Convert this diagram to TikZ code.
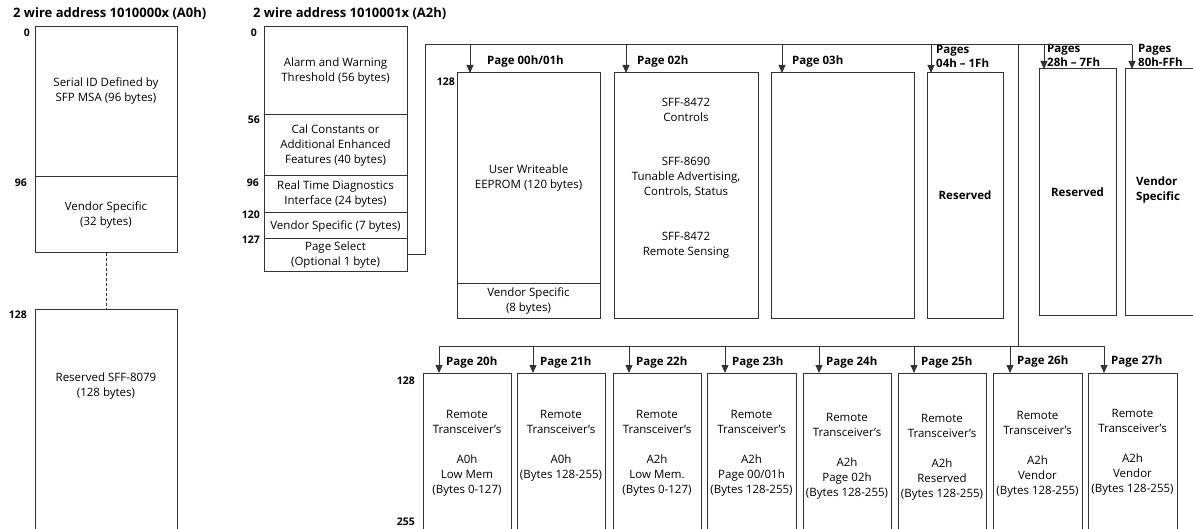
\documentclass[tikz,border=0pt]{standalone}
\usepackage{fontspec}
\setmainfont{Open Sans}
\usetikzlibrary{arrows.meta,positioning}

\newcommand\bodysize{\fontsize{11.5}{15}\selectfont}

\begin{document}
\begin{tikzpicture}[
        x=1pt, y=-1pt,
        font=\bodysize,
        membox/.style={draw=black!80, line width=1pt, inner sep=0pt, outer sep=0pt, anchor=north west, align=center},
        txt/.style={align=center, inner sep=0pt},
        boldtxt/.style={font=\bodysize\bfseries},
        title/.style={font=\fontsize{13}{15}\selectfont\bfseries, inner sep=0pt, anchor=west},
        hdr/.style={font=\fontsize{11.5}{14}\selectfont\bfseries, inner sep=0pt, anchor=west, align=left},
        offs/.style={font=\fontsize{10.5}{13}\selectfont\bfseries, inner sep=0pt, anchor=east},
        bus/.style={draw=black!80, line width=1pt},
        arrow/.style={bus, -{Triangle[length=8pt,width=7pt]}}
    ]

    \useasboundingbox (0,0) rectangle (1193,529);
    \clip (0,0) rectangle (1193,529);

    % ==========================================
    % A0h: 2 wire address 1010000x
    % ==========================================
    \node[title] (hA0) at (13,14) {2 wire address 1010000x (A0h)};
    \node[membox, minimum width=142pt, minimum height=150pt] (a0id) at (35,27) {};
    \node[txt] (a0idt) at (106,91) {Serial ID Defined by\\SFP MSA (96 bytes)};
    \node[membox, minimum width=142pt, minimum height=76pt] (a0vs) at (a0id.south west) {Vendor Specific\\(32 bytes)};
    \node[membox, minimum width=142pt, minimum height=240pt] (a0res) at (35,309) {};
    \node[txt] (a0rest) at (106,386) {Reserved SFF-8079\\(128 bytes)};
    \draw[bus, densely dashed, line width=0.6pt] (a0vs.south) -- (a0res.north);

    \node[offs] (o0) at (30,33) {0};
    \node[offs] (o96) at (27,183) {96};
    \node[offs] (o128) at (27,315) {128};

    % ==========================================
    % A2h: 2 wire address 1010001x
    % ==========================================
    \node[title] (hA2) at (253,14) {2 wire address 1010001x (A2h)};
    \node[membox, minimum width=143pt, minimum height=88pt] (alarm) at (264,27) {Alarm and Warning\\Threshold (56 bytes)};
    \node[membox, minimum width=143pt, minimum height=61pt] (cal) at (alarm.south west) {Cal Constants or\\Additional Enhanced\\Features (40 bytes)};
    \node[membox, minimum width=143pt, minimum height=37pt] (rtd) at (cal.south west) {Real Time Diagnostics\\Interface (24 bytes)};
    \node[membox, minimum width=143pt, minimum height=26pt] (vs7) at (rtd.south west) {Vendor Specific (7 bytes)};
    \node[membox, minimum width=143pt, minimum height=32pt] (psel) at (vs7.south west) {Page Select\\(Optional 1 byte)};

    \node[offs] (a2o0) at (257,33) {0};
    \node[offs] (a2o56) at (260,120) {56};
    \node[offs] (a2o96) at (259,183) {96};
    \node[offs] (a2o120) at (260,215) {120};
    \node[offs] (a2o127) at (260,240) {127};

    % ==========================================
    % Upper pages 00h ... FFh
    % ==========================================
    \node[membox, minimum width=143pt, minimum height=210pt] (p00) at (457,73) {User Writeable\\EEPROM (120 bytes)};
    \node[membox, minimum width=143pt, minimum height=35pt] (p00vs) at (p00.south west) {Vendor Specific\\(8 bytes)};
    \node[membox, minimum width=144pt, minimum height=245pt] (p02) at (614,73) {};
    \node[txt, below=25pt of p02.north] (p02t) {SFF-8472\\Controls\\[29pt]SFF-8690\\Tunable Advertising,\\Controls, Status\\[30pt]SFF-8472\\Remote Sensing};
    \node[membox, minimum width=143pt, minimum height=245pt] (p03) at (771,73) {};
    \node[membox, boldtxt, minimum width=76pt, minimum height=245pt] (p04) at (927,73) {Reserved};
    \node[membox, boldtxt, minimum width=77pt, minimum height=246pt] (p28) at (1039,69) {Reserved};
    \node[membox, minimum width=80pt, minimum height=246pt] (p80) at (1125,69) {};
    \node[txt, boldtxt, anchor=west, align=left] (p80t) at (1136,190) {Vendor\\Specific};

    \node[offs] (po128) at (455,82) {128};

    \node[hdr] (l00) at (487,62) {Page 00h/01h};
    \node[hdr] (l02) at (637,62) {Page 02h};
    \node[hdr] (l03) at (792,62) {Page 03h};
    \node[hdr] (l04) at (936,56) {Pages\\04h -- 1Fh};
    \node[hdr] (l28) at (1047,55) {Pages\\28h -- 7Fh};
    \node[hdr] (l80) at (1138,55) {Pages\\80h-FFh};

    % page select bus
    \coordinate (jn) at (425,45);
    \coordinate (t00) at (470,45);
    \coordinate (t02) at (626,45);
    \coordinate (t03) at (782,45);
    \coordinate (t04) at (931,45);
    \coordinate (tap) at (1018,45);
    \coordinate (t28) at (1044,45);
    \coordinate (t80) at (1132,45);
    \draw[bus] (psel.east) -| (jn) -- (t80);
    \draw[arrow] (t00) -- (t00 |- p00.north);
    \draw[arrow] (t02) -- (t02 |- p02.north);
    \draw[arrow] (t03) -- (t03 |- p03.north);
    \draw[arrow] (t04) -- (t04 |- p04.north);
    \draw[arrow] (t28) -- (t28 |- p28.north);
    \draw[arrow] (t80) -- (t80 |- p80.north);

    % ==========================================
    % Lower pages 20h ... 27h (remote transceiver)
    % ==========================================
    \node[membox, minimum width=88pt, minimum height=158pt] (r20) at (423,373) {};
    \node[membox, minimum width=88pt, minimum height=158pt] (r21) at (517,373) {};
    \node[membox, minimum width=88pt, minimum height=158pt] (r22) at (613,373) {};
    \node[membox, minimum width=89pt, minimum height=158pt] (r23) at (707,373) {};
    \node[membox, minimum width=88pt, minimum height=158pt] (r24) at (803,373) {};
    \node[membox, minimum width=88pt, minimum height=158pt] (r25) at (898,373) {};
    \node[membox, minimum width=89pt, minimum height=158pt] (r26) at (993,373) {};
    \node[membox, minimum width=89pt, minimum height=158pt] (r27) at (1088,373) {};

    \node[txt, below=37pt of r20.north] (r20t) {Remote\\Transceiver’s\\[15pt]A0h\\Low Mem\\(Bytes 0-127)};
    \node[txt, below=37pt of r21.north] (r21t) {Remote\\Transceiver’s\\[15pt]A0h\\(Bytes 128-255)};
    \node[txt, below=37pt of r22.north] (r22t) {Remote\\Transceiver’s\\[15pt]A2h\\Low Mem.\\(Bytes 0-127)};
    \node[txt, below=37pt of r23.north] (r23t) {Remote\\Transceiver’s\\[15pt]A2h\\Page 00/01h\\(Bytes 128-255)};
    \node[txt, below=40pt of r24.north] (r24t) {Remote\\Transceiver’s\\[15pt]A2h\\Page 02h\\(Bytes 128-255)};
    \node[txt, below=41pt of r25.north] (r25t) {Remote\\Transceiver’s\\[15pt]A2h\\Reserved\\(Bytes 128-255)};
    \node[txt, below=38pt of r26.north] (r26t) {Remote\\Transceiver’s\\[15pt]A2h\\Vendor\\(Bytes 128-255)};
    \node[txt, below=36pt of r27.north] (r27t) {Remote\\Transceiver’s\\[15pt]A2h\\Vendor\\(Bytes 128-255)};

    \node[offs] (ro128) at (415,381) {128};
    \node[offs] (ro255) at (415,522) {255};

    \node[hdr] (l20) at (446,363) {Page 20h};
    \node[hdr] (l21) at (540,363) {Page 21h};
    \node[hdr] (l22) at (636,363) {Page 22h};
    \node[hdr] (l23) at (732,363) {Page 23h};
    \node[hdr] (l24) at (826,363) {Page 24h};
    \node[hdr] (l25) at (921,363) {Page 25h};
    \node[hdr] (l26) at (1017,362) {Page 26h};
    \node[hdr] (l27) at (1111,362) {Page 27h};

    % remote bus
    \coordinate (b20) at (439,346);
    \coordinate (b21) at (533,346);
    \coordinate (b22) at (629,346);
    \coordinate (b23) at (725,346);
    \coordinate (b24) at (819,346);
    \coordinate (b25) at (914,346);
    \coordinate (b26) at (1010,346);
    \coordinate (b27) at (1104,346);
    \draw[bus] (tap) -- (tap |- b20);
    \draw[bus] (b20) -- (b27);
    \draw[arrow] (b20) -- (b20 |- r20.north);
    \draw[arrow] (b21) -- (b21 |- r21.north);
    \draw[arrow] (b22) -- (b22 |- r22.north);
    \draw[arrow] (b23) -- (b23 |- r23.north);
    \draw[arrow] (b24) -- (b24 |- r24.north);
    \draw[arrow] (b25) -- (b25 |- r25.north);
    \draw[arrow] (b26) -- (b26 |- r26.north);
    \draw[arrow] (b27) -- (b27 |- r27.north);

\end{tikzpicture}
\end{document}
